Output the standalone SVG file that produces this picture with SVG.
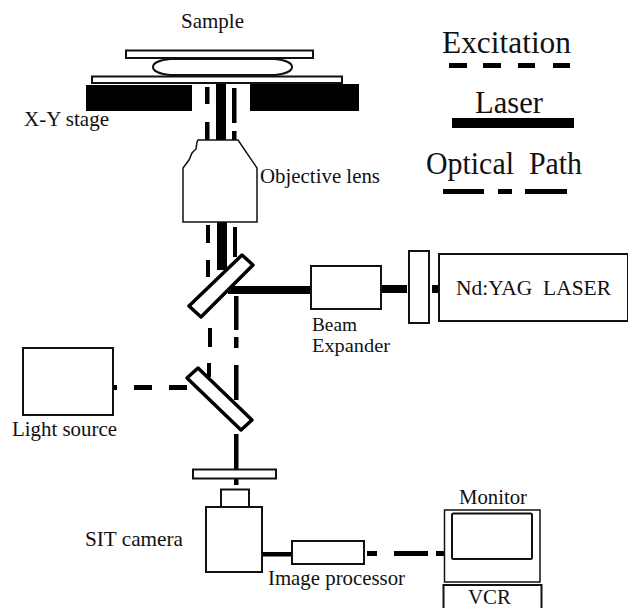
<svg xmlns="http://www.w3.org/2000/svg" width="628" height="608" viewBox="0 0 628 608">
<style>
text{font-family:"Liberation Serif","Times New Roman",serif;fill:#111;font-size:21px}
.big{font-size:31px}
.small{font-size:18.500px}
.box{fill:#fff;stroke:#111;stroke-width:2}
.thin{fill:#fff;stroke:#111;stroke-width:1.5}
.mirror{fill:#fff;stroke:#000;stroke-width:3.5;stroke-linejoin:round}
.k{fill:#000;stroke:none}
</style>
<rect width="628" height="608" fill="#fff"/>
<g id="connectors">
<rect class="k" x="216" y="83" width="10" height="57"/>
<rect class="k" x="217" y="222" width="10" height="48"/>
<rect class="k" x="205" y="87" width="4.500" height="17"/>
<rect class="k" x="205" y="122" width="4.500" height="18"/>
<rect class="k" x="206" y="225" width="4" height="18"/>
<rect class="k" x="206" y="260" width="4" height="17"/>
<rect class="k" x="208" y="328" width="4" height="19"/>
<rect class="k" x="207" y="363" width="4" height="14"/>
<rect class="k" x="232" y="88" width="4.500" height="35"/>
<rect class="k" x="232" y="131" width="4.500" height="9"/>
<rect class="k" x="233" y="227" width="4" height="30"/>
<rect class="k" x="234" y="296" width="4.500" height="34"/>
<rect class="k" x="234" y="337" width="4.500" height="11"/>
<rect class="k" x="234" y="365" width="4.500" height="35"/>
<rect class="k" x="234" y="434" width="4.500" height="35"/>
<rect class="k" x="234" y="479" width="4.500" height="6"/>
<rect class="k" x="228" y="286" width="83" height="8"/>
<rect class="k" x="381" y="285" width="26" height="8"/>
<rect class="k" x="432" y="285" width="8" height="8"/>
<rect class="k" x="113" y="385" width="4" height="5"/>
<rect class="k" x="134" y="385" width="18" height="5"/>
<rect class="k" x="169" y="385" width="18" height="5"/>
<rect class="k" x="262" y="552" width="30" height="4.500"/>
<rect class="k" x="367" y="551" width="10" height="5"/>
<rect class="k" x="394" y="551" width="34" height="5"/>
<rect class="k" x="436" y="551" width="8" height="5"/>
</g>
<g id="sample">
<text x="181" y="28" textLength="63" lengthAdjust="spacingAndGlyphs">Sample</text>
<rect class="box" x="126" y="50.500" width="187" height="7.500"/>
<path class="box" d="M170 59H275C285 60 292 63 292 67C292 71 285 74 275 75H170C160 74 153 71 153 67C153 63 160 60 170 59Z"/>
<rect class="box" x="92" y="76.500" width="250" height="6.500"/>
</g>
<g id="stage">
<rect class="k" x="86" y="85" width="106" height="26"/>
<rect class="k" x="250" y="84" width="109" height="27"/>
<text x="24" y="126" textLength="85" lengthAdjust="spacingAndGlyphs">X-Y stage</text>
</g>
<g id="objective">
<path d="M198 140H238L257 168V222H183V168L189 160 192 153 196 149 197 142Z" fill="#fff" stroke="#111" stroke-width="1.500"/>
<text x="260" y="183" textLength="120" lengthAdjust="spacingAndGlyphs">Objective lens</text>
</g>
<g id="mirror1"><polygon class="mirror" points="242,255 253,265 201,317 189,306"/></g>
<g id="mirror2"><polygon class="mirror" points="198,368 252,420 241,430 187,378"/></g>
<g id="beam-expander">
<rect class="box" x="311" y="266" width="70" height="43"/>
<text class="small" x="312" y="331" textLength="45" lengthAdjust="spacingAndGlyphs">Beam</text>
<text class="small" x="312" y="352" textLength="78" lengthAdjust="spacingAndGlyphs">Expander</text>
</g>
<g id="filter"><rect class="box" x="409" y="251" width="20" height="72"/></g>
<g id="laser">
<rect class="box" x="439" y="254" width="189" height="67"/>
<text x="456" y="295" textLength="155" lengthAdjust="spacingAndGlyphs" xml:space="preserve">Nd:YAG  LASER</text>
</g>
<g id="light-source">
<rect class="box" x="23" y="348" width="90" height="67"/>
<text x="12" y="436" textLength="105" lengthAdjust="spacingAndGlyphs">Light source</text>
</g>
<g id="plate"><rect class="box" x="193" y="469.500" width="83" height="9"/></g>
<g id="sit-camera">
<rect class="box" x="221" y="489.500" width="28" height="17.500"/>
<rect class="box" x="206" y="507" width="56" height="65"/>
<text x="85" y="546" textLength="98" lengthAdjust="spacingAndGlyphs">SIT camera</text>
</g>
<g id="image-processor">
<rect class="box" x="292" y="541" width="72" height="23"/>
<text x="268" y="585" textLength="137" lengthAdjust="spacingAndGlyphs">Image processor</text>
</g>
<g id="monitor">
<text x="459" y="504" textLength="68" lengthAdjust="spacingAndGlyphs">Monitor</text>
<rect class="thin" x="444.500" y="510" width="95.500" height="72"/>
<rect class="box" x="452" y="513.500" width="80" height="45.500" rx="1.500"/>
</g>
<g id="vcr">
<rect class="box" x="443.500" y="585" width="98" height="30"/>
<text x="468" y="604" textLength="43" lengthAdjust="spacingAndGlyphs">VCR</text>
</g>
<g id="legend-excitation">
<text class="big" x="442" y="53" textLength="129" lengthAdjust="spacingAndGlyphs">Excitation</text>
<rect class="k" x="449" y="63" width="18" height="5"/>
<rect class="k" x="483" y="63" width="18" height="5"/>
<rect class="k" x="518" y="63" width="17" height="5"/>
<rect class="k" x="553" y="63" width="17" height="5"/>
</g>
<g id="legend-laser">
<text class="big" x="475" y="113" textLength="68" lengthAdjust="spacingAndGlyphs">Laser</text>
<rect class="k" x="452" y="118" width="122" height="10"/>
</g>
<g id="legend-optical">
<text class="big" x="426" y="174" textLength="156" lengthAdjust="spacingAndGlyphs" xml:space="preserve">Optical  Path</text>
<rect class="k" x="443" y="189" width="41" height="5"/>
<rect class="k" x="498" y="189" width="14" height="5"/>
<rect class="k" x="525" y="189" width="42" height="5"/>
</g>
</svg>
